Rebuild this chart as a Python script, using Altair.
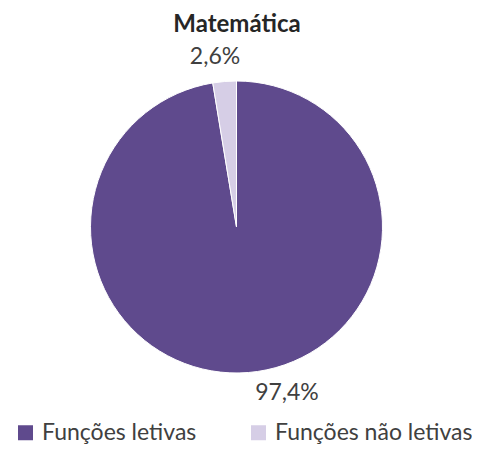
import altair as alt
import pandas as pd

categories = ["Funções letivas", "Funções não letivas"]
values = [97.4, 2.6]
labels = ["97,4%", "2,6%"]
colors = ["#5F4A8D", "#D6CEE6"]
title_text = "Matemática"

df = pd.DataFrame({"cat": categories, "val": values, "lab": labels, "order": [0, 1]})

CX, CY, R = 228.5, 219, 146
FONT = "Lato"

pie = alt.Chart(df).mark_arc(outerRadius=R, stroke="white", strokeWidth=1).encode(
    theta=alt.Theta("val:Q", stack=True),
    order=alt.Order("order:Q"),
    x=alt.value(CX),
    y=alt.value(CY),
    color=alt.Color(
        "cat:N",
        scale=alt.Scale(domain=categories, range=colors),
        legend=alt.Legend(
            title=None,
            orient="none",
            legendX=6,
            legendY=413,
            direction="horizontal",
            symbolType="square",
            symbolSize=225,
            symbolStrokeWidth=0,
            labelFont=FONT,
            labelFontSize=23,
            labelColor="#404040",
            labelOffset=5,
            columnPadding=50,
            labelLimit=400,
        ),
    ),
)

def label_layer(name, dx, dy):
    return alt.Chart(df).transform_window(
        cum="sum(val)", sort=[alt.SortField("order")], frame=[None, 0]
    ).transform_calculate(
        mid="datum.cum - datum.val / 2"
    ).transform_filter(alt.datum.lab == name).mark_text(
        radius=170, dx=dx, dy=dy, font=FONT, fontSize=23, color="#404040",
        align="center", baseline="middle",
    ).encode(
        theta=alt.Theta("mid:Q", stack=None),
        x=alt.value(CX), y=alt.value(CY), text="lab:N",
    )

lab_small = label_layer("2,6%", -7.6, -0.6)
lab_big = label_layer("97,4%", 36.6, -3.4)

title = alt.Chart(pd.DataFrame({"t": [title_text]})).mark_text(
    font=FONT, fontSize=24, fontWeight="bold", color="#262626",
    align="center", baseline="middle",
).encode(x=alt.value(229), y=alt.value(17), text="t:N")

chart = alt.layer(pie, lab_small, lab_big, title).resolve_scale(theta="shared").properties(
    width=464, height=436, padding=0,
    autosize=alt.AutoSizeParams(type="none"),
).configure_view(stroke=None)

chart.save("out.html", embed_options={"renderer": "svg", "actions": False})
